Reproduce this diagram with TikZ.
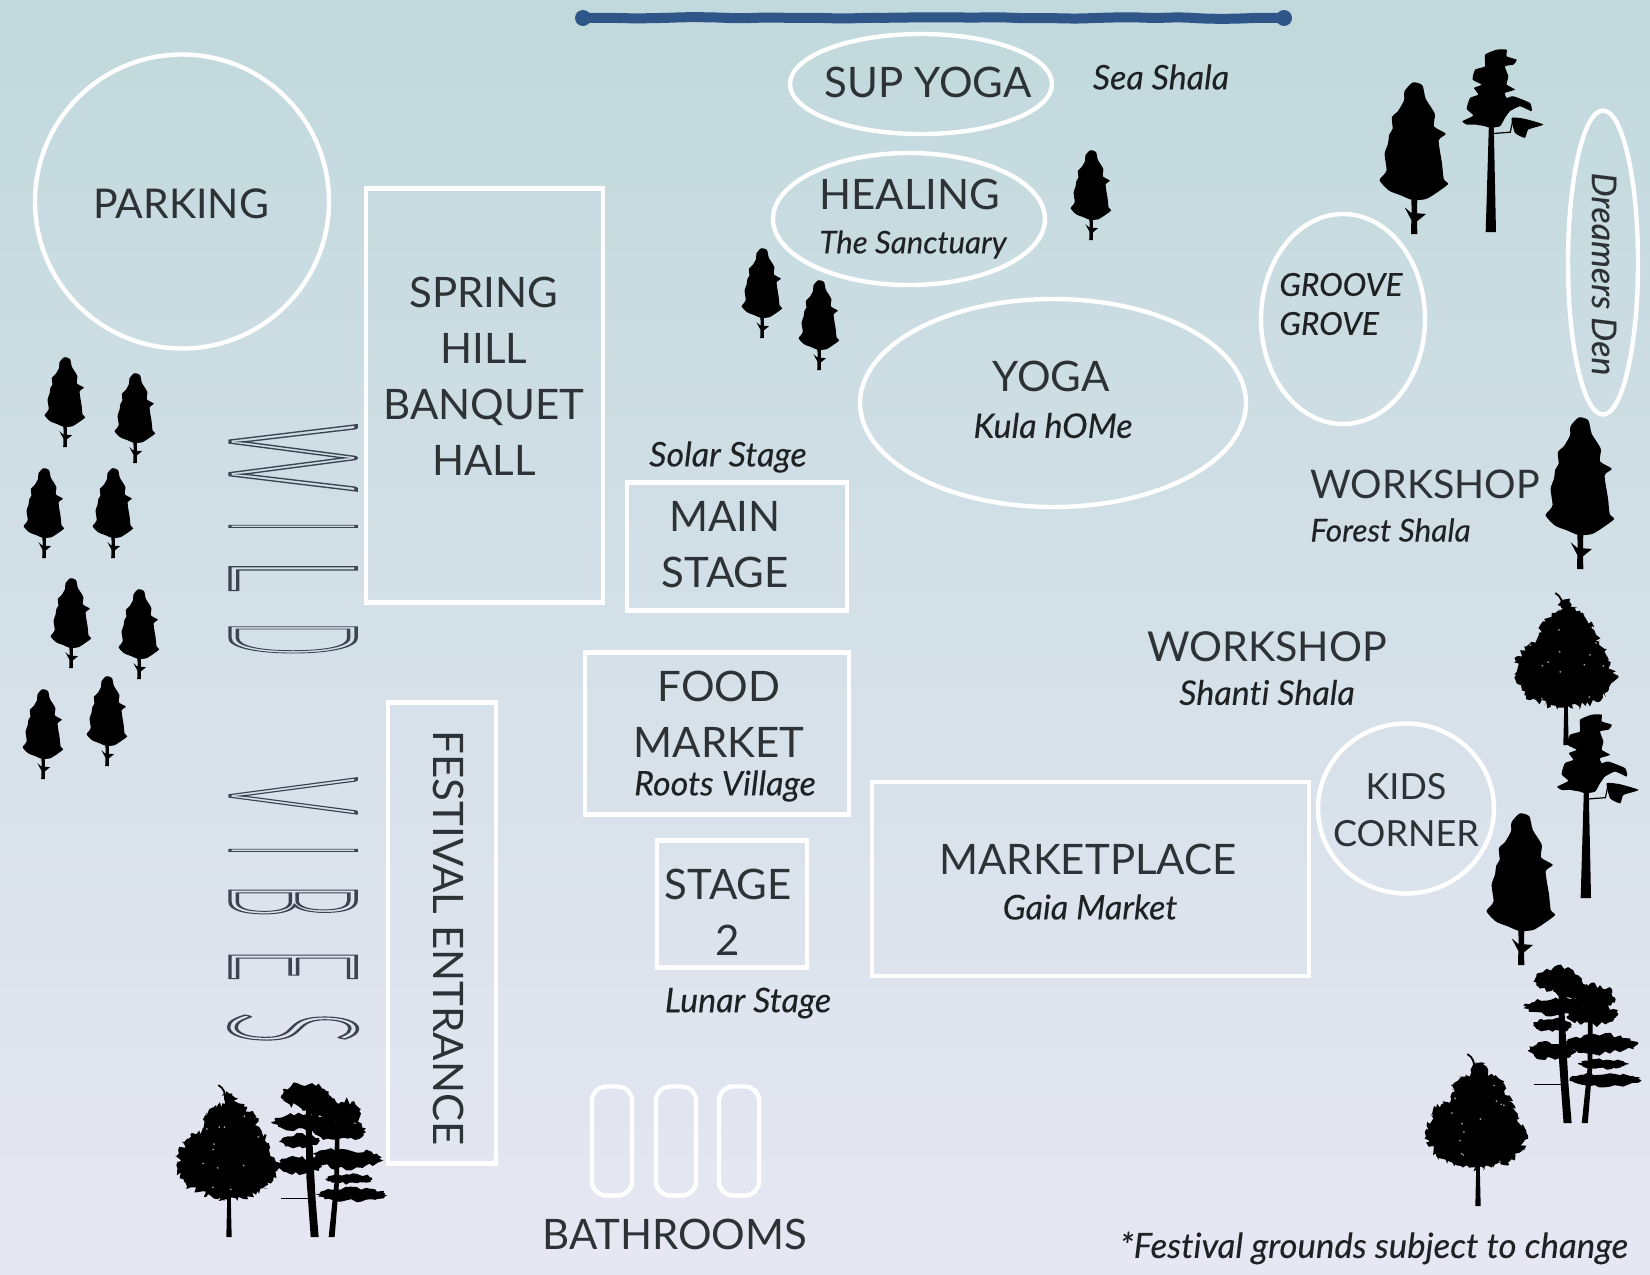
\documentclass[tikz,border=0pt]{standalone}
\usepackage{fontspec}
\usepackage{graphicx}
\usetikzlibrary{decorations.pathmorphing,shapes.geometric}
\setmainfont[Ligatures=NoCommon]{Lato}
\newfontfamily\thinfont{Lato Light}
\definecolor{ink}{HTML}{2D3236}
\definecolor{inkit}{HTML}{1E2225}
\definecolor{outl}{HTML}{3C4452}
\definecolor{bgtop}{HTML}{C1D9DC}
\definecolor{bgmid}{HTML}{D0DEE6}
\definecolor{bgbot}{HTML}{E7E7F3}
\definecolor{water}{HTML}{2F5688}
\newcommand{\wvl}[3]{\makebox[#2pt][c]{\scalebox{#3}[1]{#1}}}
\newcommand{\outlinetext}[1]{\special{pdf:code 1 Tr 0.42 w}#1\special{pdf:code 0 Tr}}
% trees: #1,#2 base point, #3 height in px
\newcommand{\spruce}[3]{\begin{scope}[shift={(#1,#2)},x={#3*0.5pt/455},y={#3*0.5pt/455}]
 \fill[black] (-9,0)--(-8,42)--(-28,80)--(-7,62)--(-8,110)--(10,110)--(9,62)--(36,60)--(9,38)--(10,0)--cycle;
 \fill[black] plot[smooth cycle,tension=0.4] coordinates {(-5,102)(-40,116)(-75,130)(-103,160)(-90,178)(-82,192)(-88,240)(-78,270)(-74,298)(-64,315)(-66,350)(-48,368)(-30,400)(-28,428)(-3,454)(25,445)(35,405)(62,360)(60,322)(95,300)(74,280)(84,210)(89,165)(102,150)(77,130)(37,105)};
\end{scope}}
\newcommand{\tallpine}[3]{\begin{scope}[shift={(#1,#2)},x={#3*0.5pt/550},y={#3*0.5pt/550}]
 \fill[black] (-16,0)--(-6,335)--(8,335)--(15,0)--cycle;
 \fill[black] plot[smooth cycle,tension=0.3] coordinates {(-18,318)(-48,323)(-73,323)(-86,333)(-53,350)(-73,370)(-63,403)(-38,413)(-51,433)(-28,443)(-55,458)(-48,488)(-18,498)(-18,533)(17,548)(47,548)(47,528)(77,518)(67,503)(42,498)(52,468)(47,443)(72,428)(42,418)(47,403)(67,408)(117,388)(122,363)(87,378)(57,363)(42,343)(27,318)(-3,313)};
 \draw[black,line width=0.6pt] (7,296)--(58,300)--(67,343);
 \fill[black] plot[smooth cycle,tension=0.3] coordinates {(62,343)(102,340)(157,323)(112,308)(102,283)(72,298)};
\end{scope}}
\newcommand{\roundtree}[3]{\begin{scope}[shift={(#1,#2)},x={#3*0.5pt/455},y={#3*0.5pt/455}]
 \fill[black] (-8,0)--(-5,130)--(5,130)--(8,0)--cycle;
 \fill[black,decorate,decoration={random steps,segment length=1.1pt,amplitude=1.6pt}] (0,112)--(-45,115)--(-90,135)--(-125,150)--(-155,200)--(-150,250)--(-125,295)--(-80,320)--(-70,370)--(-20,400)--(-15,430)--(10,430)--(30,400)--(75,370)--(90,330)--(115,280)--(130,240)--(150,210)--(125,160)--(90,130)--(40,115)--cycle;
 \draw[black,line width=0.9pt] (-12,410) .. controls (-10,430) and (-15,445) .. (-32,455);
 \foreach \s in {1,...,14}{\fill[white,opacity=.6] ({115*rand},{250+120*rand}) circle (3);}
\end{scope}}
\newcommand{\blob}[4]{\fill[black] plot[samples=40,domain=0:351,variable=\t] ({#1+#3*(1+0.1*rand)*cos(\t)},{#2+#4*(1+0.3*rand)*sin(\t)}) -- cycle;}
\newcommand{\twinpine}[3]{\begin{scope}[shift={(#1,#2)},x={#3*0.5pt/460},y={#3*0.5pt/460}]
 \fill[black] (-37,0)--(-13,0)--(-22,110)--(-38,400)--(-52,400)--(-50,180)--cycle;
 \fill[black] (17,0)--(35,0)--(48,160)--(50,330)--(36,330)--(34,160)--cycle;
 \blob{-55}{425}{70}{36}
 \blob{-10}{395}{55}{30}
 \blob{55}{372}{58}{40}
 \blob{-60}{345}{90}{24}
 \blob{50}{320}{78}{28}
 \blob{-70}{290}{58}{19}
 \blob{70}{235}{105}{28}
 \blob{-72}{215}{68}{24}
 \blob{80}{175}{70}{14}
 \blob{85}{128}{102}{20}
 \draw[black,line width=0.5pt] (-125,115)--(-45,115);
\end{scope}}
\tikzset{
 big/.style={font=\fontsize{21}{28}\selectfont,text=ink,align=center,inner sep=0pt},
 mid/.style={font=\fontsize{18}{23.5}\selectfont,text=ink,align=center,inner sep=0pt},
 sub/.style={font=\fontsize{17}{20}\selectfont\itshape\addfontfeature{FakeBold=0.2},text=inkit,inner sep=0pt},
 outline/.style={line width=2.2pt,draw=white,inner sep=0pt},
 boxarea/.style={outline,rectangle},
 ringarea/.style={outline,ellipse},
 stall/.style={outline,rectangle,rounded corners=7pt,minimum width=20pt,minimum height=54.5pt},
 hollow/.style={font=\fontsize{22}{22}\thinfont,text=outl,inner sep=0pt,rotate=-90,yscale=4.05,transform shape,anchor=west,text height=15.8pt,text depth=0pt},
}
\begin{document}
\begin{tikzpicture}[x=0.5pt,y=-0.5pt]
\pgfmathsetseed{7}
\useasboundingbox (0,0) rectangle (1650,1275);
\path[top color=bgtop,middle color=bgmid,bottom color=bgbot] (0,0) rectangle (1650,1275);
% water
\coordinate (shoreA) at (583,18);
\coordinate (shoreB) at (1284,18);
\draw[water,line width=5pt,line cap=round,decorate,decoration={random steps,segment length=13pt,amplitude=0.45pt},rounded corners=4pt] (shoreA) -- (shoreB);
\fill[water] (shoreA) circle (8);
\fill[water] (shoreB) circle (8);
% areas
\node[ringarea,minimum width=147pt,minimum height=147pt] (parkingring) at (182,201.5) {};
\node[big,font=\fontsize{20.5}{28}\selectfont] (parking) at (181,204) {PARKING};
\node[boxarea,minimum width=118.5pt,minimum height=207pt] (springbox) at (484.5,395.5) {};
\node[big] (spring) at (484,376) {SPRING\\HILL\\BANQUET\\HALL};
\node[boxarea,minimum width=110pt,minimum height=64pt] (mainbox) at (737,546.5) {};
\node[big] (main) at (725,545) {MAIN\\STAGE};
\node[sub] (solar) at (728,457) {Solar Stage};
\node[boxarea,minimum width=132pt,minimum height=81pt] (foodbox) at (717,733.5) {};
\node[big] (food) at (719,714.5) {FOOD\\MARKET};
\node[sub] (roots) at (725,786) {Roots Village};
\node[boxarea,minimum width=75pt,minimum height=63.5pt] (stagetwobox) at (732,904) {};
\node[big] (stagetwo) at (728,912.5) {STAGE\\2};
\node[sub] (lunar) at (748,1003) {Lunar Stage};
\node[boxarea,minimum width=218.5pt,minimum height=97pt] (marketbox) at (1090.5,879) {};
\node[big] (market) at (1088,859) {MARKETPLACE};
\node[sub] (gaia) at (1090,907) {Gaia Market};
\node[ringarea,minimum width=88pt,minimum height=85pt] (kidsring) at (1406,808.5) {};
\node[mid] (kids) at (1406,810.5) {KIDS\\CORNER};
\node[big,anchor=west,font=\fontsize{19.7}{28}\selectfont] (shopone) at (1310,484) {WORKSHOP};
\node[sub,anchor=west,font=\fontsize{15.8}{20}\selectfont\itshape\addfontfeature{FakeBold=0.2}] (forest) at (1310,530) {Forest Shala};
\node[big,font=\fontsize{20.6}{28}\selectfont] (shoptwo) at (1267,647) {WORKSHOP};
\node[sub] (shanti) at (1267,692.5) {Shanti Shala};
\node[ringarea,minimum width=193pt,minimum height=104pt] (yogaring) at (1053,403) {};
\node[big] (yoga) at (1051,376) {YOGA};
\node[sub] (kula) at (1053,425.5) {Kula hOMe};
\node[ringarea,minimum width=82pt,minimum height=105pt] (grovering) at (1343,319) {};
\node[sub,align=left,anchor=west,font=\fontsize{15.8}{19.5}\selectfont\itshape\addfontfeature{FakeBold=0.45}] (groove) at (1279,304) {GROOVE\\GROVE};
\node[ringarea,minimum width=35pt,minimum height=152pt] (dreamring) at (1603,262.5) {};
\node[sub,rotate=-90,text=ink] (dream) at (1604,274) {Dreamers Den};
\node[ringarea,minimum width=131pt,minimum height=50pt] (supring) at (921,84) {};
\node[big] (sup) at (928,82) {SUP YOGA};
\node[sub] (sea) at (1161,77) {Sea Shala};
\node[ringarea,minimum width=136pt,minimum height=66pt] (healring) at (909,219) {};
\node[big] (heal) at (910,194.5) {HEALING};
\node[sub,font=\fontsize{15.6}{20}\selectfont\itshape\addfontfeature{FakeBold=0.2}] (sanctuary) at (913,244.5) {The Sanctuary};
\node[stall] (stalla) at (612,1141) {};
\node[stall] (stallb) at (676,1141) {};
\node[stall] (stallc) at (739,1141) {};
\node[big] (bath) at (675,1234) {BATHROOMS};
\node[boxarea,minimum width=54pt,minimum height=230.5pt] (gatebox) at (442,933) {};
\node[big,rotate=-90] (gate) at (448.5,938) {FESTIVAL ENTRANCE};
\node[sub,font=\fontsize{17.4}{20}\selectfont\itshape\addfontfeature{FakeBold=0.2}] (note) at (1374,1248) {*Festival grounds subject to change};
% outlined title
\node[hollow] (wild) at (294,424) {\color{outl}\outlinetext{\wvl{W}{33.5}{1.55}\hspace{16.5pt}\wvl{I}{2}{1}\hspace{16pt}\wvl{L}{15.5}{1.4}\hspace{16pt}\wvl{D}{15.5}{1}}};
\node[hollow] (vibes) at (294,777) {\color{outl}\outlinetext{\wvl{V}{18.5}{1.3}\hspace{17pt}\wvl{I}{2}{1}\hspace{16.5pt}\wvl{B}{15.5}{1.15}\hspace{17pt}\wvl{E}{15}{1.25}\hspace{16pt}\wvl{S}{15.5}{1.3}}};
% trees
\spruce{65}{447}{90}
\spruce{135}{463}{90}
\spruce{44}{558}{90}
\spruce{113}{558}{90}
\spruce{71}{668}{90}
\spruce{139}{679}{90}
\spruce{43}{779}{90}
\spruce{107}{766}{90}
\spruce{1091}{240}{90}
\spruce{762}{338}{90}
\spruce{819}{370}{90}
\spruce{1414}{234}{152}
\spruce{1580}{569}{152}
\spruce{1521}{965}{152}
\tallpine{1491}{232}{183}
\tallpine{1586}{898}{184}
\roundtree{1566}{745}{152}
\roundtree{1478}{1206}{152}
\roundtree{229}{1237}{152}
\twinpine{323}{1237}{153}
\twinpine{1576}{1123}{155}
\end{tikzpicture}
\end{document}
